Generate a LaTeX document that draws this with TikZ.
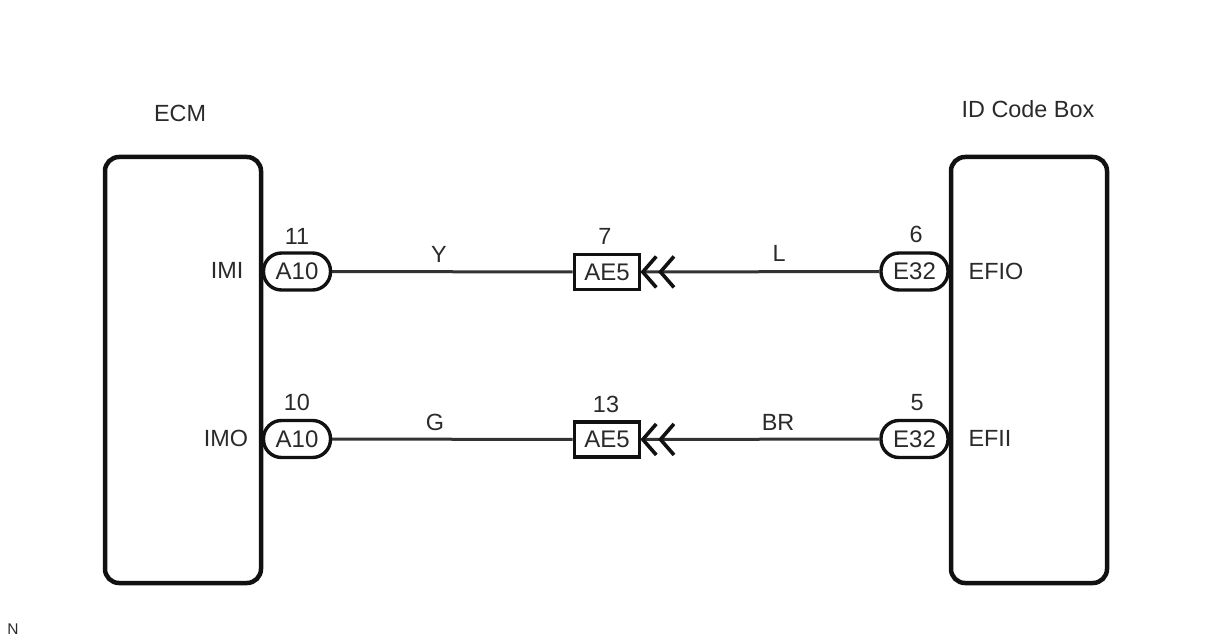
\documentclass[tikz,border=0pt]{standalone}
\usepackage{fontspec}
\setmainfont{Liberation Sans}
\usetikzlibrary{arrows.meta}
\definecolor{ink}{HTML}{111111}
\definecolor{wire}{HTML}{333333}
\definecolor{txt}{HTML}{2A2A2A}
\tikzset{
  x=1pt,y=-1pt,
  ecu/.style={draw=ink,line width=4.5pt,rounded corners=14pt,minimum width=156pt,minimum height=426pt,inner sep=0pt,fill=white},
  pill/.style={draw=ink,line width=3.4pt,rounded corners=18pt,minimum width=67pt,minimum height=37pt,inner sep=0pt,fill=white,text=txt,font=\fontsize{24}{26}\selectfont},
  junction/.style={draw=ink,line width=3.8pt,minimum width=65pt,minimum height=35pt,inner sep=0pt,fill=white,text=txt,font=\fontsize{24}{26}\selectfont},
  lbl/.style={text=txt,font=\fontsize{23.4}{25}\selectfont,inner sep=0pt},
  wireline/.style={draw=wire,line width=3pt},
  chev/.style={wireline,{Straight Barb[length=13.5pt,width=31pt,line width=3.6pt,color=ink,sep=1.5pt]Straight Barb[length=13.5pt,width=31pt,line width=3.6pt,color=ink]}-}
}
\begin{document}
\begin{tikzpicture}
\useasboundingbox (0,0) rectangle (1208,644);
\node[ecu] (ecm) at (183,370) {};
\node[ecu] (idb) at (1029,370) {};
\node[lbl] (ecmt) at (180,113.5) {ECM};
\node[lbl] (idbt) at (1028,109.5) {ID Code Box};
\node[pill] (a1) at (297,271.5) {A10};
\node[pill] (a2) at (297,439) {A10};
\node[pill] (e1) at (914.5,271.5) {E32};
\node[pill] (e2) at (914.5,439) {E32};
\node[junction] (j1) at (607,272) {AE5};
\node[junction] (j2) at (607,439.5) {AE5};
\draw[wireline] (a1) -- (j1);
\draw[wireline] (a2) -- (j2);
\draw[chev] (j1.east) ++(-2.5,0) coordinate (t1) (t1) -- (e1.west);
\draw[chev] (j2.east) ++(-2.5,0) coordinate (t2) (t2) -- (e2.west);
\node[lbl] (imi) at (227,270.5) {IMI};
\node[lbl] (imo) at (226,438.5) {IMO};
\node[lbl] (efio) at (996,271.5) {EFIO};
\node[lbl] (efii) at (990,438.5) {EFII};
\node[lbl] (n1) at (297,236.5) {11};
\node[lbl] (n2) at (297,402.5) {10};
\node[lbl] (n3) at (605,236.5) {7};
\node[lbl] (n4) at (606,404.5) {13};
\node[lbl] (n5) at (916,234.5) {6};
\node[lbl] (n6) at (917,402.5) {5};
\node[lbl] (y) at (439,254.5) {Y};
\node[lbl] (g) at (435,422.5) {G};
\node[lbl] (l) at (779,253.5) {L};
\node[lbl] (br) at (778,422.5) {BR};
\node[text=txt,font=\fontsize{15.5}{17}\selectfont,inner sep=0pt] (nn) at (13,629) {N};
\end{tikzpicture}
\end{document}
